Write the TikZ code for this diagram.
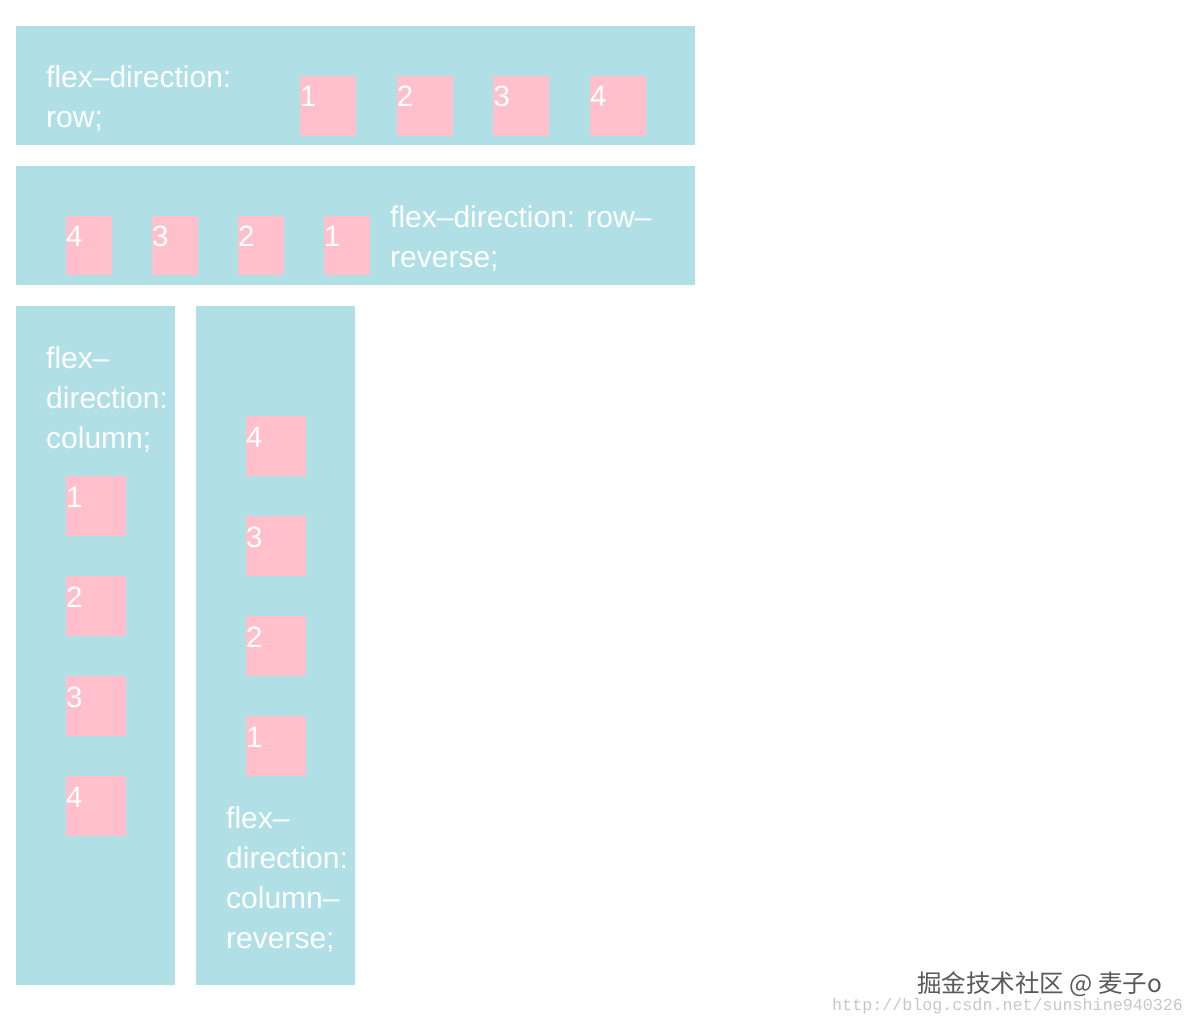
\documentclass[tikz,border=0pt]{standalone}
\usepackage{fontspec}
\setmainfont{Liberation Sans}
\newfontfamily\cjkfont{Noto Sans CJK SC}
\newfontfamily\urlfont{Liberation Mono}
\definecolor{powder}{HTML}{B0E0E6}
\definecolor{pinkbox}{HTML}{FFC0CB}
\tikzset{
  container/.style={fill=powder, draw=none},
  item/.style={fill=pinkbox, draw=none},
  lbl/.style={anchor=base west, inner sep=0pt, text=white, font=\fontsize{30}{40}\selectfont},
  num/.style={anchor=base west, inner sep=0pt, text=white, font=\fontsize{29.5}{40}\selectfont},
}
\begin{document}
\begin{tikzpicture}[x=1pt,y=-1pt]
\useasboundingbox[fill=white] (0,0) rectangle (1194,1024);
% containers
\path[container] (16,26) rectangle (695,145) coordinate (c1);
\path[container] (16,166) rectangle (695,285) coordinate (c2);
\path[container] (16,306) rectangle (175,985) coordinate (c3);
\path[container] (196,306) rectangle (355,985) coordinate (c4);
% row
\node[lbl] (t1a) at (46,88) {flex–direction:};
\node[lbl] (t1b) at (46,128) {row;};
\foreach \x/\n in {300/1,396.7/2,493.3/3,590/4}{
  \path[item] (\x,76) rectangle (\x+56,136);
  \node[num] (r\n) at (\x,107) {\n};
}
% row-reverse
\foreach \x/\n in {66/4,152/3,238/2,324/1}{
  \path[item] (\x,216) rectangle (\x+46,275);
  \node[num] (rr\n) at (\x,247) {\n};
}
\node[lbl] (t2a) at (390,228) {flex–direction: row–};
\node[lbl] (t2b) at (390,268) {reverse;};
% column
\node[lbl] (t3a) at (46,368) {flex–};
\node[lbl] (t3b) at (46,408) {direction:};
\node[lbl] (t3c) at (46,448) {column;};
\foreach \y/\n in {476/1,576/2,676/3,776/4}{
  \path[item] (66,\y) rectangle (126,\y+60);
  \node[num] (c\n) at (66,\y+31) {\n};
}
% column-reverse
\foreach \y/\n in {416/4,516/3,616/2,716/1}{
  \path[item] (246,\y) rectangle (306,\y+60);
  \node[num] (cr\n) at (246,\y+31) {\n};
}
\node[lbl] (t4a) at (226,828) {flex–};
\node[lbl] (t4b) at (226,868) {direction:};
\node[lbl] (t4c) at (226,908) {column–};
\node[lbl] (t4d) at (226,948) {reverse;};
% watermark
\node[anchor=base west, inner sep=0pt, text=black!65, font=\cjkfont\fontsize{24.5}{25}\selectfont] (wm1) at (917,992) {掘金技术社区\ @\ 麦子o};
\node[anchor=base west, inner sep=0pt, text=black!22, font=\urlfont\fontsize{16.7}{17}\selectfont] (wm2) at (832,1010) {http://blog.csdn.net/sunshine940326};
\end{tikzpicture}
\end{document}
